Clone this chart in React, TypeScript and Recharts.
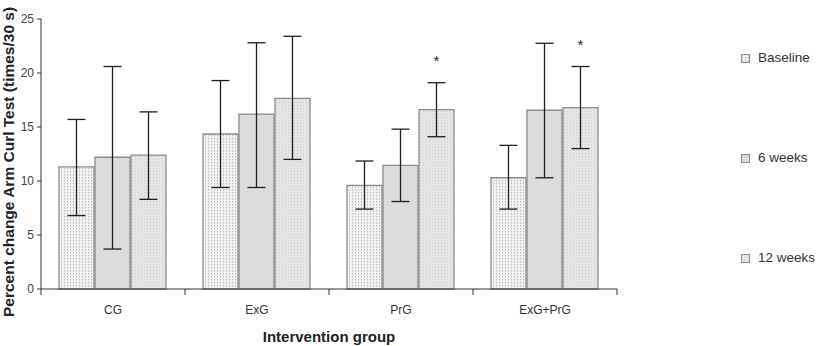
import React from "react";
import { BarChart, Bar, XAxis, YAxis, ErrorBar, LabelList, Label } from "recharts";

const groups = ["CG", "ExG", "PrG", "ExG+PrG"];

const baseline = [11.3, 14.35, 9.6, 10.3];
const baselineLow = [6.8, 9.4, 7.4, 7.4];
const baselineHigh = [15.7, 19.3, 11.85, 13.3];

const week6 = [12.2, 16.2, 11.45, 16.55];
const week6Low = [3.7, 9.4, 8.1, 10.3];
const week6High = [20.6, 22.8, 14.8, 22.75];

const week12 = [12.4, 17.65, 16.6, 16.8];
const week12Low = [8.3, 12.0, 14.1, 13.0];
const week12High = [16.4, 23.4, 19.1, 20.6];
const week12Significant = [false, false, true, true];

const yTicks = [0, 5, 10, 15, 20, 25];

const seriesNames = ["Baseline", "6 weeks", "12 weeks"];

// ErrorBar wants [below, above] deltas relative to the bar value
const data = groups.map((g, i) => ({
  group: g,
  baseline: baseline[i],
  baselineErr: [baseline[i] - baselineLow[i], baselineHigh[i] - baseline[i]],
  week6: week6[i],
  week6Err: [week6[i] - week6Low[i], week6High[i] - week6[i]],
  week12: week12[i],
  week12Err: [week12[i] - week12Low[i], week12High[i] - week12[i]],
}));

const FONT = "'Liberation Sans', Arial, sans-serif";

const GroupTick = (props: any) => {
  const { x, y, payload, index, visibleTicksCount } = props;
  const half = payload && payload.offset ? payload.offset : 72;
  const last = index === (visibleTicksCount ?? groups.length) - 1;
  return (
    <g>
      <line x1={x - half} x2={x - half} y1={y} y2={y + 6} stroke="#333" strokeWidth={1} />
      {last && <line x1={x + half} x2={x + half} y1={y} y2={y + 6} stroke="#333" strokeWidth={1} />}
      <text x={x} y={y + 25} textAnchor="middle" fontSize={12} fontFamily={FONT} fill="#333">
        {payload.value}
      </text>
    </g>
  );
};

// asterisk above the 12-week error bar where the change was significant
const Star = (props: any) => {
  const { x, y, width, height, index, value } = props;
  if (!week12Significant[index] || !value) return null;
  const perUnit = height / value;
  const capY = y - (week12High[index] - value) * perUnit;
  return (
    <text x={x + width / 2} y={capY - 17} textAnchor="middle" fontSize={15} fontFamily={FONT} fill="#222">
      *
    </text>
  );
};

const swatchFill = ["url(#dotsBaseline)", "#dcdcdc", "url(#stipple12)"];

export default function App() {
  return (
    <div style={{ position: "absolute", left: 0, top: 0, width: 824, height: 346, background: "#fff" }}>
      <BarChart
        width={824}
        height={346}
        data={data}
        margin={{ top: 19, right: 207, bottom: 0, left: 0 }}
        barCategoryGap="12.5%"
        barGap={1}
      >
        <defs>
          <pattern id="dotsBaseline" width="3" height="3" patternUnits="userSpaceOnUse">
            <rect width="3" height="3" fill="#f1f1f1" />
            <rect x="1" y="0" width="1" height="1.5" fill="#b8b8b8" />
          </pattern>
          <pattern id="stipple12" width="3" height="3" patternUnits="userSpaceOnUse">
            <rect width="3" height="3" fill="#e9e9e9" />
            <rect x="0" y="0" width="1" height="1" fill="#c6c6c6" />
            <rect x="1.5" y="1.5" width="1" height="1" fill="#cfcfcf" />
          </pattern>
        </defs>
        <YAxis
          width={41}
          domain={[0, 25]}
          ticks={yTicks}
          interval={0}
          tickSize={4}
          tickMargin={3}
          axisLine={{ stroke: "#333" }}
          tickLine={{ stroke: "#333" }}
          tick={{ fontSize: 12, fontFamily: FONT, fill: "#444" }}
        >
          <Label
            content={() => (
              <text
                transform="rotate(-90)"
                x={-317}
                y={14}
                fontSize={15.5}
                fontWeight="bold"
                fontFamily={FONT}
                fill="#222"
              >
                Percent change Arm Curl Test (times/30 s)
              </text>
            )}
          />
        </YAxis>
        <XAxis
          dataKey="group"
          height={57}
          interval={0}
          tickLine={false}
          tickSize={0}
          tickMargin={0}
          axisLine={{ stroke: "#333" }}
          tick={<GroupTick />}
        >
          <Label
            content={() => (
              <text x={329} y={342} textAnchor="middle" fontSize={15} fontWeight="bold" fontFamily={FONT} fill="#222">
                Intervention group
              </text>
            )}
          />
        </XAxis>
        <Bar dataKey="baseline" fill="url(#dotsBaseline)" stroke="#8c8c8c" strokeWidth={1.3} isAnimationActive={false}>
          <ErrorBar dataKey="baselineErr" width={9} stroke="#1e1e1e" strokeWidth={1.3} direction="y" />
        </Bar>
        <Bar dataKey="week6" fill="#dcdcdc" stroke="#8c8c8c" strokeWidth={1.3} isAnimationActive={false}>
          <ErrorBar dataKey="week6Err" width={9} stroke="#1e1e1e" strokeWidth={1.3} direction="y" />
        </Bar>
        <Bar dataKey="week12" fill="url(#stipple12)" stroke="#8c8c8c" strokeWidth={1.3} isAnimationActive={false}>
          <ErrorBar dataKey="week12Err" width={9} stroke="#1e1e1e" strokeWidth={1.3} direction="y" />
          <LabelList dataKey="week12" content={<Star />} />
        </Bar>
      </BarChart>
      {seriesNames.map((name, i) => (
        <div
          key={name}
          style={{
            position: "absolute",
            left: 741,
            top: 49 + i * 100,
            display: "flex",
            alignItems: "center",
            fontFamily: FONT,
            fontSize: 13.5,
            color: "#333",
            lineHeight: "18px",
          }}
        >
          <svg width={9} height={9} style={{ marginRight: 8 }}>
            <rect x={0.5} y={0.5} width={8} height={8} fill={swatchFill[i]} stroke="#8c8c8c" strokeWidth={1} />
          </svg>
          {name}
        </div>
      ))}
    </div>
  );
}
